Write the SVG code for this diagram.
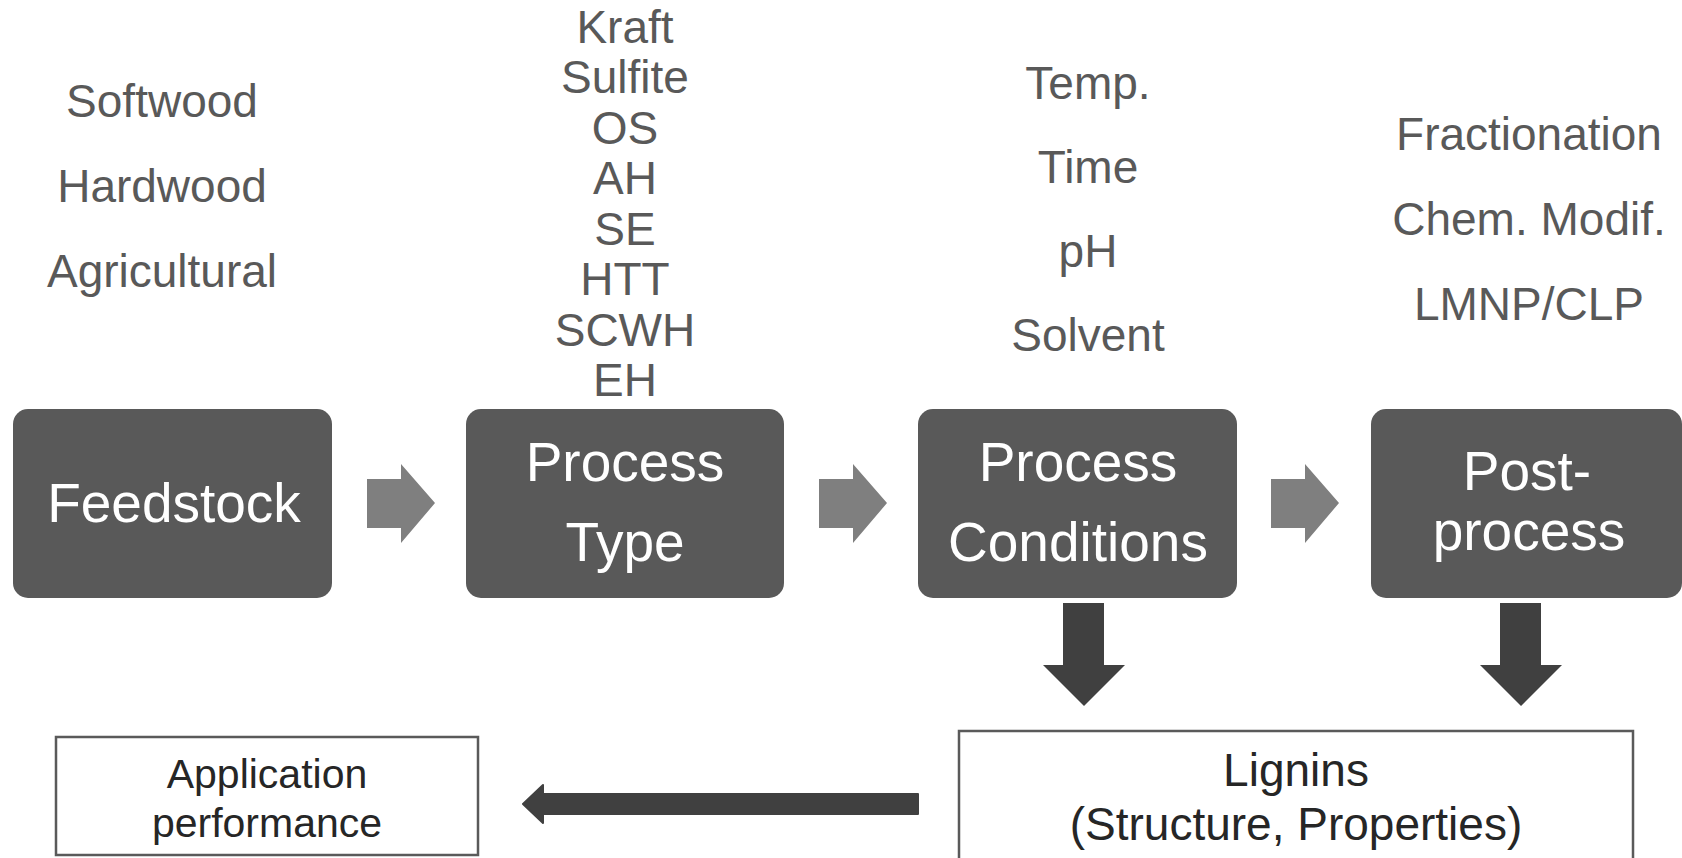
<svg xmlns="http://www.w3.org/2000/svg" width="1682" height="858" viewBox="0 0 1682 858">
<style>
.box{fill:#595959}
.lbl{font-family:"Liberation Sans",Arial,sans-serif;font-size:55px;fill:#ffffff;text-anchor:middle}
.lst{font-family:"Liberation Sans",Arial,sans-serif;font-size:46px;fill:#595959;text-anchor:middle}
.out{fill:#ffffff;stroke:#5a5a5a;stroke-width:2.5}
.otx{font-family:"Liberation Sans",Arial,sans-serif;fill:#262626;text-anchor:middle}
.ra{fill:#7f7f7f}
.da{fill:#404040}
</style>
<rect width="1682" height="858" fill="#ffffff"/>
<g id="feedstock">
<rect class="box" x="13" y="409" width="319" height="189" rx="15"/>
<text class="lbl" x="174" y="522">Feedstock</text>
<text class="lst" x="162" y="117">Softwood</text>
<text class="lst" x="162" y="202">Hardwood</text>
<text class="lst" x="162" y="287">Agricultural</text>
</g>
<g id="process-type">
<rect class="box" x="466" y="409" width="318" height="189" rx="15"/>
<text class="lbl" x="625" y="481">Process</text>
<text class="lbl" x="625" y="561">Type</text>
<text class="lst" x="625" y="43">Kraft</text>
<text class="lst" x="625" y="93">Sulfite</text>
<text class="lst" x="625" y="144">OS</text>
<text class="lst" x="625" y="194">AH</text>
<text class="lst" x="625" y="245">SE</text>
<text class="lst" x="625" y="295">HTT</text>
<text class="lst" x="625" y="346">SCWH</text>
<text class="lst" x="625" y="396">EH</text>
</g>
<g id="process-conditions">
<rect class="box" x="918" y="409" width="319" height="189" rx="15"/>
<text class="lbl" x="1078" y="481">Process</text>
<text class="lbl" x="1078" y="561">Conditions</text>
<text class="lst" x="1088" y="99">Temp.</text>
<text class="lst" x="1088" y="183">Time</text>
<text class="lst" x="1088" y="267">pH</text>
<text class="lst" x="1088" y="351">Solvent</text>
</g>
<g id="post-process">
<rect class="box" x="1371" y="409" width="311" height="189" rx="15"/>
<text class="lbl" x="1527" y="490">Post-</text>
<text class="lbl" x="1529" y="550">process</text>
<text class="lst" x="1529" y="150">Fractionation</text>
<text class="lst" x="1529" y="235">Chem. Modif.</text>
<text class="lst" x="1529" y="320">LMNP/CLP</text>
</g>
<g id="lignins">
<rect class="out" x="959" y="731" width="674" height="140"/>
<text class="otx" x="1296" y="786" font-size="46">Lignins</text>
<text class="otx" x="1296" y="840" font-size="46">(Structure, Properties)</text>
</g>
<g id="application">
<rect class="out" x="56" y="737" width="422" height="118"/>
<text class="otx" x="267" y="788" font-size="41">Application</text>
<text class="otx" x="267" y="837" font-size="41">performance</text>
</g>
<g id="connectors">
<path class="ra" d="M367,479 H401 V464 L435,503 L401,543 V528 H367 Z"/>
<path class="ra" d="M819,479 H853 V464 L887,503 L853,543 V528 H819 Z"/>
<path class="ra" d="M1271,479 H1305 V464 L1339,503 L1305,543 V528 H1271 Z"/>
<path class="da" d="M1063,603 H1104 V665 H1125 L1084,706 L1043,665 H1063 Z"/>
<path class="da" d="M1500,603 H1541 V665 H1562 L1521,706 L1480,665 H1500 Z"/>
<path class="da" d="M918,794 V814 H543 V823 L523,804 L543,785 V794 Z" stroke="#404040" stroke-width="2" stroke-linejoin="round"/>
</g>
</svg>
